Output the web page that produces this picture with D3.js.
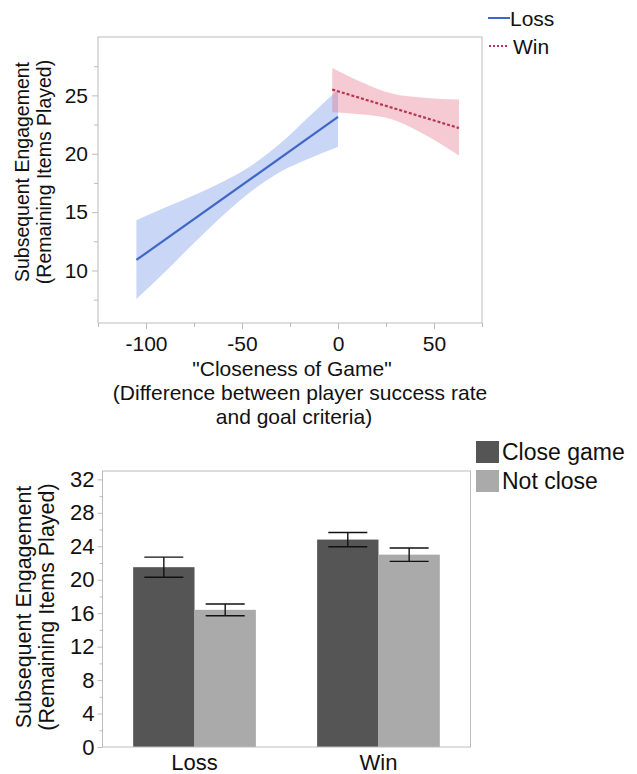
<!DOCTYPE html>
<html>
<head>
<meta charset="utf-8">
<script src="https://cdn.jsdelivr.net/npm/d3@7"></script>
<style>
  html, body { margin: 0; padding: 0; background: #fff; }
  svg text { font-family: "Liberation Sans", Arial, Helvetica, sans-serif; fill: #111; }
</style>
</head>
<body>
<svg id="chart" width="637" height="774"></svg>
<script>
// ---- Top panel: regression of engagement on closeness, by outcome ----
const lossLine = [ { x: -105, y: 10.9 }, { x: 0, y: 23.15 } ];
const winLine  = [ { x: -3, y: 25.5 }, { x: 63, y: 22.2 } ];

const lossBand = [
  { x: -105, lo: 7.55,  hi: 14.3 },
  { x: -90,  lo: 9.9,   hi: 15.4 },
  { x: -75,  lo: 12.35, hi: 16.45 },
  { x: -60,  lo: 14.7,  hi: 17.6 },
  { x: -45,  lo: 16.8,  hi: 19.0 },
  { x: -30,  lo: 18.45, hi: 20.9 },
  { x: -15,  lo: 19.6,  hi: 23.2 },
  { x: 0,    lo: 20.6,  hi: 25.5 }
];
const winBand = [
  { x: -3, lo: 23.55, hi: 27.35 },
  { x: 10, lo: 23.4,  hi: 26.3 },
  { x: 28, lo: 22.95, hi: 25.15 },
  { x: 45, lo: 21.65, hi: 24.8 },
  { x: 63, lo: 19.85, hi: 24.65 }
];

const topXTicks = [-100, -50, 0, 50];
const topXMinor = [-125, -75, -25, 25, 75];
const topYTicks = [10, 15, 20, 25];
const topYMinor = [7.5, 12.5, 17.5, 22.5, 27.5];

// ---- Bottom panel: mean engagement by outcome and closeness ----
const outcomes = ["Loss", "Win"];
const closeness = ["Close game", "Not close"];
const meanClose    = [21.5, 24.8];
const meanNotClose = [16.4, 23.0];
const errClose     = [1.2, 0.85];
const errNotClose  = [0.7, 0.8];
const botYTicks = [0, 4, 8, 12, 16, 20, 24, 28, 32];
const botYMinor = [2, 6, 10, 14, 18, 22, 26, 30];

const frameColor = "#bcbcbc";
const lossColor = "#3f67c6";
const winColor = "#b8364f";
const barColors = ["#555555", "#aaaaaa"];

const svg = d3.select("#chart");

/* ================= top panel ================= */
const T = { left: 98, right: 482, top: 37, bottom: 323 };
const x1 = d3.scaleLinear().domain([-125, 75]).range([T.left, T.right]);
const y1 = d3.scaleLinear().domain([5.5, 30]).range([T.bottom, T.top]);

const topG = svg.append("g");

// confidence bands
const area = d3.area().x(d => x1(d.x)).y0(d => y1(d.lo)).y1(d => y1(d.hi)).curve(d3.curveMonotoneX);
topG.append("path").datum(lossBand).attr("d", area).attr("fill", "rgba(88,128,225,0.32)");
topG.append("path").datum(winBand).attr("d", area).attr("fill", "rgba(226,108,134,0.36)");

// fit lines
const line = d3.line().x(d => x1(d.x)).y(d => y1(d.y));
topG.append("path").datum(lossLine).attr("d", line)
  .attr("fill", "none").attr("stroke", lossColor).attr("stroke-width", 2.2);
topG.append("path").datum(winLine).attr("d", line)
  .attr("fill", "none").attr("stroke", winColor).attr("stroke-width", 2.2)
  .attr("stroke-dasharray", "3,2");

// frame
topG.append("rect").attr("x", T.left).attr("y", T.top)
  .attr("width", T.right - T.left).attr("height", T.bottom - T.top)
  .attr("fill", "none").attr("stroke", frameColor).attr("stroke-width", 1);

// x axis (plain hyphen for negatives)
const xAx = d3.axisBottom(x1).tickValues(topXTicks).tickSize(6).tickPadding(2).tickFormat(d => String(d));
const gx = topG.append("g").attr("transform", `translate(0,${T.bottom})`).call(xAx);
gx.select(".domain").remove();
gx.selectAll(".tick line").attr("stroke", frameColor);
gx.selectAll(".tick text").attr("font-size", 21).attr("fill", "#111").attr("dy", "0.95em");
const gxm = topG.append("g").attr("transform", `translate(0,${T.bottom})`)
  .call(d3.axisBottom(x1).tickValues(topXMinor).tickSize(4).tickFormat(""));
gxm.select(".domain").remove();
gxm.selectAll(".tick line").attr("stroke", frameColor);

// y axis
const yAx = d3.axisLeft(y1).tickValues(topYTicks).tickSize(6).tickPadding(4);
const gy = topG.append("g").attr("transform", `translate(${T.left},0)`).call(yAx);
gy.select(".domain").remove();
gy.selectAll(".tick line").attr("stroke", frameColor);
gy.selectAll(".tick text").attr("font-size", 21).attr("fill", "#111");
const gym = topG.append("g").attr("transform", `translate(${T.left},0)`)
  .call(d3.axisLeft(y1).tickValues(topYMinor).tickSize(4).tickFormat(""));
gym.select(".domain").remove();
gym.selectAll(".tick line").attr("stroke", frameColor);

// axis titles
const yt = topG.append("text").attr("transform", "translate(0,172) rotate(-90)")
  .attr("text-anchor", "middle").attr("font-size", 19.5);
yt.append("tspan").attr("x", 0).attr("y", 29).text("Subsequent Engagement");
yt.append("tspan").attr("x", 0).attr("y", 51).text("(Remaining Items Played)");

const xt = topG.append("g").attr("text-anchor", "middle").attr("font-size", 21);
xt.append("text").attr("x", 292).attr("y", 376).text("\"Closeness of Game\"");
xt.append("text").attr("x", 300).attr("y", 400).text("(Difference between player success rate");
xt.append("text").attr("x", 294).attr("y", 424).text("and goal criteria)");

// legend
const lg = topG.append("g");
lg.append("line").attr("x1", 488).attr("x2", 510).attr("y1", 18).attr("y2", 18)
  .attr("stroke", lossColor).attr("stroke-width", 2);
lg.append("text").attr("x", 510).attr("y", 26).attr("font-size", 21).text("Loss");
lg.append("line").attr("x1", 489).attr("x2", 509).attr("y1", 46).attr("y2", 46)
  .attr("stroke", winColor).attr("stroke-width", 2).attr("stroke-dasharray", "2,2");
lg.append("text").attr("x", 513).attr("y", 54).attr("font-size", 21).text("Win");

/* ================= bottom panel ================= */
const B = { left: 102.5, right: 470.5, top: 471, bottom: 747 };
const x0 = d3.scaleBand().domain(outcomes).range([B.left, B.right])
  .paddingInner(0.333).paddingOuter(0.1667);
const xs = d3.scaleBand().domain(closeness).range([0, x0.bandwidth()]);
const y2 = d3.scaleLinear().domain([0, 33]).range([B.bottom, B.top]);

const botG = svg.append("g");

const rows = outcomes.map((o, i) => ({
  outcome: o,
  vals: [
    { key: closeness[0], mean: meanClose[i], err: errClose[i] },
    { key: closeness[1], mean: meanNotClose[i], err: errNotClose[i] }
  ]
}));

const grp = botG.selectAll("g.grp").data(rows).join("g")
  .attr("class", "grp").attr("transform", d => `translate(${x0(d.outcome)},0)`);

grp.selectAll("rect").data(d => d.vals).join("rect")
  .attr("x", d => xs(d.key)).attr("width", xs.bandwidth())
  .attr("y", d => y2(d.mean)).attr("height", d => y2(0) - y2(d.mean))
  .attr("fill", (d, i) => barColors[i]);

// error bars
const capHalf = 19.5;
const eb = grp.selectAll("g.err").data(d => d.vals).join("g").attr("class", "err")
  .attr("stroke", "#111").attr("stroke-width", 1.4);
eb.append("line")
  .attr("x1", d => xs(d.key) + xs.bandwidth() / 2).attr("x2", d => xs(d.key) + xs.bandwidth() / 2)
  .attr("y1", d => y2(d.mean + d.err)).attr("y2", d => y2(d.mean - d.err));
eb.append("line")
  .attr("x1", d => xs(d.key) + xs.bandwidth() / 2 - capHalf).attr("x2", d => xs(d.key) + xs.bandwidth() / 2 + capHalf)
  .attr("y1", d => y2(d.mean + d.err)).attr("y2", d => y2(d.mean + d.err));
eb.append("line")
  .attr("x1", d => xs(d.key) + xs.bandwidth() / 2 - capHalf).attr("x2", d => xs(d.key) + xs.bandwidth() / 2 + capHalf)
  .attr("y1", d => y2(d.mean - d.err)).attr("y2", d => y2(d.mean - d.err));

// frame
botG.append("rect").attr("x", B.left).attr("y", B.top)
  .attr("width", B.right - B.left).attr("height", B.bottom - B.top)
  .attr("fill", "none").attr("stroke", frameColor).attr("stroke-width", 1);

// y axis
const gy2 = botG.append("g").attr("transform", `translate(${B.left},0)`)
  .call(d3.axisLeft(y2).tickValues(botYTicks).tickSize(5).tickPadding(3));
gy2.select(".domain").remove();
gy2.selectAll(".tick line").attr("stroke", frameColor);
gy2.selectAll(".tick text").attr("font-size", 22).attr("fill", "#111");
const gy2m = botG.append("g").attr("transform", `translate(${B.left},0)`)
  .call(d3.axisLeft(y2).tickValues(botYMinor).tickSize(3).tickFormat(""));
gy2m.select(".domain").remove();
gy2m.selectAll(".tick line").attr("stroke", frameColor);

// category labels
botG.selectAll("text.cat").data(outcomes).join("text").attr("class", "cat")
  .attr("x", d => x0(d) + x0.bandwidth() / 2).attr("y", 770)
  .attr("text-anchor", "middle").attr("font-size", 22).text(d => d);

// y title
const yt2 = botG.append("text").attr("transform", "translate(0,607) rotate(-90)")
  .attr("text-anchor", "middle").attr("font-size", 21.5);
yt2.append("tspan").attr("x", 0).attr("y", 31).text("Subsequent Engagement");
yt2.append("tspan").attr("x", 0).attr("y", 54).text("(Remaining Items Played)");

// legend
const lg2 = botG.selectAll("g.lg").data(closeness).join("g").attr("class", "lg")
  .attr("transform", (d, i) => `translate(476,${441 + i * 29})`);
lg2.append("rect").attr("width", 23).attr("height", 22).attr("fill", (d, i) => barColors[i]);
lg2.append("text").attr("x", 26).attr("y", 19).attr("font-size", 23).text(d => d);
</script>
</body>
</html>
